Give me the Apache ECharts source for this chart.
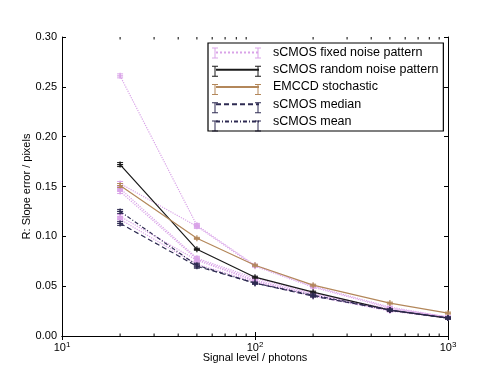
<!DOCTYPE html>
<html>
<head>
<meta charset="utf-8">
<script src="https://cdn.jsdelivr.net/npm/echarts@6/dist/echarts.min.js"></script>
<style>
  html, body { margin: 0; padding: 0; background: #fff; }
  #chart { width: 498px; height: 374px; }
</style>
</head>
<body>
<div id="chart"></div>
<script>
// signal levels (photons)
var signal = [20, 50, 100, 200, 500, 1000];

// sCMOS fixed noise pattern: several runs, one legend entry
var fixedRuns = [
  [0.261, 0.111, 0.071, 0.050, 0.029, 0.019],
  [0.153, 0.110, 0.070, 0.049, 0.028, 0.019],
  [0.148, 0.078, 0.058, 0.043, 0.027, 0.019],
  [0.145, 0.077, 0.056, 0.042, 0.026, 0.018],
  [0.120, 0.076, 0.055, 0.041, 0.026, 0.018],
  [0.117, 0.072, 0.054, 0.040, 0.025, 0.018]
];
var fixedErr = [0.002, 0.002, 0.001, 0.001, 0.001, 0.001];

var randomNoise = [0.172, 0.087, 0.059, 0.044, 0.026, 0.018];
var randomErr = [0.002, 0.001, 0.001, 0.001, 0.001, 0.001];

var emccd = [0.151, 0.098, 0.071, 0.051, 0.033, 0.023];
var emccdErr = [0.002, 0.001, 0.001, 0.001, 0.001, 0.001];

var median = [0.113, 0.070, 0.053, 0.040, 0.026, 0.018];
var medianErr = [0.002, 0.002, 0.001, 0.001, 0.001, 0.001];

var mean = [0.125, 0.071, 0.053, 0.041, 0.026, 0.018];
var meanErr = [0.002, 0.002, 0.001, 0.001, 0.001, 0.001];

var legendNames = ['sCMOS fixed noise pattern', 'sCMOS random noise pattern', 'EMCCD stochastic', 'sCMOS median', 'sCMOS mean'];
var minorTicks = [20, 30, 40, 50, 60, 70, 80, 90, 200, 300, 400, 500, 600, 700, 800, 900];

var plus = 'path://M4,0H6V4H10V6H6V10H4V6H0V4H4Z';

function pairs(ys) {
  return signal.map(function (x, i) { return [x, ys[i]]; });
}

function lineSeries(name, ys, color, type, z) {
  return {
    name: name,
    type: 'line',
    data: pairs(ys),
    symbol: plus,
    symbolSize: 6,
    itemStyle: { color: color },
    lineStyle: { color: color, width: 1.2, type: type },
    z: z,
    animation: false
  };
}

function errSeries(ys, errs, color, z) {
  return {
    type: 'custom',
    silent: true,
    z: z,
    data: signal.map(function (x, i) { return [x, ys[i], errs[i]]; }),
    renderItem: function (params, api) {
      var x = api.value(0), y = api.value(1), e = api.value(2);
      var lo = api.coord([x, y - e]);
      var hi = api.coord([x, y + e]);
      var st = { stroke: color, lineWidth: 1 };
      return {
        type: 'group',
        children: [
          { type: 'line', shape: { x1: lo[0], y1: lo[1], x2: hi[0], y2: hi[1] }, style: st },
          { type: 'line', shape: { x1: lo[0] - 3, y1: lo[1], x2: lo[0] + 3, y2: lo[1] }, style: st },
          { type: 'line', shape: { x1: hi[0] - 3, y1: hi[1], x2: hi[0] + 3, y2: hi[1] }, style: st }
        ]
      };
    },
    animation: false
  };
}

var cFixed = '#d9a3e8', cRandom = '#1a1a1a', cEm = '#b3875a', cMed = '#2e2b52', cMean = '#2e2b52';
var legendColors = [cFixed, cRandom, cEm, cMed, cMean];

var series = [];
fixedRuns.forEach(function (run) {
  series.push(lineSeries(legendNames[0], run, cFixed, 'dotted', 2));
  series.push(errSeries(run, fixedErr, cFixed, 2));
});
series.push(lineSeries(legendNames[1], randomNoise, cRandom, 'solid', 3));
series.push(errSeries(randomNoise, randomErr, cRandom, 3));
series.push(lineSeries(legendNames[2], emccd, cEm, 'solid', 3));
series.push(errSeries(emccd, emccdErr, cEm, 3));
series.push(lineSeries(legendNames[3], median, cMed, [5, 3], 4));
series.push(errSeries(median, medianErr, cMed, 4));
series.push(lineSeries(legendNames[4], mean, cMean, [4, 2, 1, 2], 4));
series.push(errSeries(mean, meanErr, cMean, 4));

// minor ticks on the log axis, bottom and top
series.push({
  type: 'custom',
  silent: true,
  clip: false,
  data: minorTicks.map(function (v) { return [v, 0]; }),
  renderItem: function (params, api) {
    var p = api.coord([api.value(0), 0]);
    var top = api.coord([api.value(0), 0.30]);
    var st = { stroke: '#000', lineWidth: 1 };
    return {
      type: 'group',
      children: [
        { type: 'line', shape: { x1: p[0], y1: p[1], x2: p[0], y2: p[1] - 2.5 }, style: st },
        { type: 'line', shape: { x1: top[0], y1: top[1], x2: top[0], y2: top[1] + 2.5 }, style: st }
      ]
    };
  },
  z: 10,
  animation: false
});

// error-bar caps on the legend samples
var legBoxLeft = 208, legPadL = 7, legW = 43, legTop = 43 + 3, rowH = 14, rowGap = 4.25;
var capGraphics = [];
legendColors.forEach(function (c, i) {
  var cy = legTop + i * (rowH + rowGap) + rowH / 2;
  [legBoxLeft + legPadL, legBoxLeft + legPadL + legW].forEach(function (cx) {
    capGraphics.push({
      type: 'group', z: 100, silent: true,
      children: [
        { type: 'line', shape: { x1: cx, y1: cy - 5, x2: cx, y2: cy + 5 }, style: { stroke: c, lineWidth: 1 } },
        { type: 'line', shape: { x1: cx - 3, y1: cy - 5, x2: cx + 3, y2: cy - 5 }, style: { stroke: c, lineWidth: 1 } },
        { type: 'line', shape: { x1: cx - 3, y1: cy + 5, x2: cx + 3, y2: cy + 5 }, style: { stroke: c, lineWidth: 1 } }
      ]
    });
  });
});

var font = 'Liberation Sans, Arial, sans-serif';

var chart = echarts.init(document.getElementById('chart'));
chart.setOption({
  backgroundColor: '#fff',
  animation: false,
  grid: { left: 62, right: 50, top: 37, bottom: 38 },
  legend: {
    data: legendNames,
    orient: 'vertical',
    left: legBoxLeft,
    top: 43,
    padding: [3, 5, 3, legPadL],
    itemGap: rowGap,
    itemWidth: legW,
    itemHeight: rowH,
    borderColor: '#000',
    borderWidth: 1.2,
    itemStyle: { opacity: 0 },
    textStyle: { fontFamily: font, fontSize: 12.5, color: '#000', padding: [0, 0, 0, 9] },
    selectedMode: false
  },
  graphic: capGraphics,
  xAxis: [{
    type: 'log',
    logBase: 10,
    min: 10,
    max: 1000,
    name: 'Signal level / photons',
    nameLocation: 'middle',
    nameGap: 16,
    nameMoveOverlap: false,
    nameTextStyle: { fontFamily: font, fontSize: 11, color: '#000' },
    axisLine: { lineStyle: { color: '#000', width: 1 } },
    axisTick: { inside: true, length: 4, lineStyle: { color: '#000' } },
    splitLine: { show: false },
    axisLabel: {
      fontFamily: font, fontSize: 11, color: '#000', margin: 5,
      formatter: function (v) { return '10{s|' + Math.round(Math.log10(v)) + '}'; },
      rich: { s: { fontSize: 8, verticalAlign: 'top', padding: [0, 0, 6, 0], fontFamily: font, color: '#000' } }
    }
  }, {
    type: 'log',
    logBase: 10,
    min: 10,
    max: 1000,
    position: 'top',
    axisLine: { lineStyle: { color: '#000', width: 1 } },
    axisTick: { inside: true, length: 4, lineStyle: { color: '#000' } },
    axisLabel: { show: false },
    splitLine: { show: false }
  }],
  yAxis: [{
    type: 'value',
    min: 0,
    max: 0.30,
    interval: 0.05,
    name: 'R: Slope error / pixels',
    nameLocation: 'middle',
    nameGap: 30,
    nameMoveOverlap: false,
    nameTextStyle: { fontFamily: font, fontSize: 11, color: '#000' },
    axisLine: { show: true, lineStyle: { color: '#000', width: 1 } },
    axisTick: { show: true, inside: true, length: 4, lineStyle: { color: '#000' } },
    splitLine: { show: false },
    axisLabel: {
      fontFamily: font, fontSize: 11, color: '#000', margin: 5,
      formatter: function (v) { return v.toFixed(2); }
    }
  }, {
    type: 'value',
    min: 0,
    max: 0.30,
    interval: 0.05,
    position: 'right',
    axisLine: { show: true, lineStyle: { color: '#000', width: 1 } },
    axisTick: { show: true, inside: true, length: 4, lineStyle: { color: '#000' } },
    axisLabel: { show: false },
    splitLine: { show: false }
  }],
  series: series
});
</script>
</body>
</html>
